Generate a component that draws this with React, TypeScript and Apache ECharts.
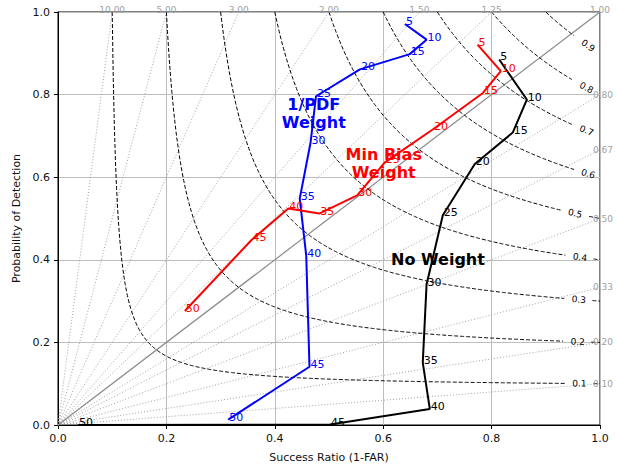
import React, { useEffect, useRef } from "react";
import * as echarts from "echarts";

// Lead-time labels for each point
const leadTimes = [5, 10, 15, 20, 25, 30, 35, 40, 45, 50];

// 1/PDF Weight (blue)
const pdfSR = [0.640, 0.680, 0.649, 0.557, 0.476, 0.466, 0.446, 0.458, 0.464, 0.314];
const pdfPOD = [0.971, 0.933, 0.898, 0.861, 0.796, 0.684, 0.548, 0.410, 0.141, 0.013];

// Min Bias Weight (red)
const minBiasSR = [0.774, 0.817, 0.784, 0.692, 0.603, 0.552, 0.482, 0.425, 0.357, 0.234];
const minBiasPOD = [0.921, 0.857, 0.804, 0.716, 0.636, 0.556, 0.512, 0.524, 0.448, 0.276];

// No Weight (black)
const noWeightSR = [0.814, 0.865, 0.839, 0.769, 0.710, 0.680, 0.673, 0.686, 0.502, 0.037];
const noWeightPOD = [0.885, 0.788, 0.708, 0.632, 0.508, 0.340, 0.151, 0.039, 0.001, 0.0];

// CSI contour levels and where their labels sit (success ratio)
const csiLevels = [0.1, 0.2, 0.3, 0.4, 0.5, 0.6, 0.7, 0.8, 0.9];
const csiLabelSR = [0.962, 0.959, 0.961, 0.963, 0.954, 0.978, 0.975, 0.975, 0.978];

// Frequency bias lines
const biasValues = [10, 5, 3, 2, 1.5, 1.25, 1, 1 / 1.25, 1 / 1.5, 1 / 2, 1 / 3, 1 / 5, 1 / 10];
const biasLabels = ["10.00", "5.00", "3.00", "2.00", "1.50", "1.25", "1.00", "0.80", "0.67", "0.50", "0.33", "0.20", "0.10"];

// Annotations
const annotationTexts = ["1/PDF\nWeight", "Min Bias\nWeight", "No Weight"];
const annotationSR = [0.472, 0.601, 0.701];
const annotationPOD = [0.755, 0.633, 0.401];
const annotationColors = ["#0000ff", "#ff0000", "#000000"];

const axisTicks = [0, 0.2, 0.4, 0.6, 0.8, 1.0];

const FONT = "DejaVu Sans";
const PLOT_W = 542;
const PLOT_H = 417;

function csiPod(c: number, s: number) {
  return 1 / (1 / c - 1 / s + 1);
}

function makeLineSeries(name: string, sr: number[], pod: number[], color: string) {
  return {
    name,
    type: "line",
    data: sr.map((s, i) => [s, pod[i], leadTimes[i]]),
    showSymbol: true,
    symbol: "circle",
    symbolSize: 0,
    itemStyle: { color },
    lineStyle: { color, width: 2 },
    z: 10,
    clip: false,
    label: {
      show: true,
      position: [0, 0],
      align: "left",
      verticalAlign: "bottom",
      offset: [1, 3],
      color,
      fontFamily: FONT,
      fontSize: 11,
      formatter: (p: any) => String(p.value[2]),
    },
    emphasis: { disabled: true },
  };
}

export default function App() {
  const ref = useRef<HTMLDivElement>(null);
  useEffect(() => {
    if (!ref.current) return;
    const chart = echarts.init(ref.current, undefined, { renderer: "svg" });

    const series: any[] = [];

    // Bias lines
    biasValues.forEach((b) => {
      const end = b >= 1 ? [1 / b, 1] : [1, b];
      const isOne = Math.abs(b - 1) < 1e-9;
      series.push({
        type: "line",
        data: [[0, 0], end],
        showSymbol: false,
        silent: true,
        lineStyle: isOne
          ? { color: "#8a8a8a", width: 1.2, type: "solid" }
          : { color: "#999999", width: 0.9, type: [1, 2] },
        z: 2,
      });
    });

    // CSI contours (broken where the label sits)
    const gap = 0.025;
    csiLevels.forEach((c, k) => {
      const ls = csiLabelSR[k];
      const seg1: number[][] = [];
      const seg2: number[][] = [];
      const step = 0.002;
      for (let s = c; s <= 1.00001; s += step) {
        const sv = Math.min(s, 1);
        const p = csiPod(c, sv);
        if (sv < ls - gap) seg1.push([sv, p]);
        else if (sv > ls + gap) seg2.push([sv, p]);
      }
      if (seg2.length === 0 || seg2[seg2.length - 1][0] < 1) seg2.push([1, csiPod(c, 1)]);
      [seg1, seg2].forEach((seg) => {
        series.push({
          type: "line",
          data: seg,
          showSymbol: false,
          silent: true,
          lineStyle: { color: "#000", width: 1, type: [4, 2] },
          z: 3,
        });
      });
    });

    // CSI labels
    series.push({
      type: "scatter",
      symbolSize: 0,
      silent: true,
      z: 4,
      itemStyle: { opacity: 1 },
      data: csiLevels.map((c, k) => {
        const s = csiLabelSR[k];
        const p = csiPod(c, s);
        const slope = (-(p * p) / (s * s)) * (PLOT_H / PLOT_W);
        const rot = (Math.atan(slope) * 180) / Math.PI;
        return {
          value: [s, p],
          label: {
            show: true,
            formatter: String(c),
            rotate: rot,
            position: [0, 0],
            align: "center",
            verticalAlign: "middle",
            color: "#000",
            fontFamily: FONT,
            fontSize: 9,
          },
        };
      }),
    });

    // Bias labels
    series.push({
      type: "scatter",
      symbolSize: 0,
      silent: true,
      z: 4,
      itemStyle: { opacity: 1 },
      data: biasValues.map((b, k) => {
        const top = b >= 1 - 1e-9;
        return {
          value: top ? [1 / b, 1] : [1, b],
          label: {
            show: true,
            formatter: biasLabels[k],
            position: [0, 0],
            align: "center",
            verticalAlign: "middle",
            offset: top ? [0, -2] : [3, 0],
            color: "#a0a0a0",
            fontFamily: FONT,
            fontSize: 9,
          },
        };
      }),
    });

    // Data series
    series.push(makeLineSeries("1/PDF Weight", pdfSR, pdfPOD, "#0000ff"));
    series.push(makeLineSeries("Min Bias Weight", minBiasSR, minBiasPOD, "#ff0000"));
    series.push(makeLineSeries("No Weight", noWeightSR, noWeightPOD, "#000000"));

    // Annotations
    series.push({
      type: "scatter",
      symbolSize: 0,
      silent: true,
      z: 20,
      itemStyle: { opacity: 1 },
      data: annotationTexts.map((t, k) => ({
        value: [annotationSR[k], annotationPOD[k]],
        label: {
          show: true,
          formatter: t,
          position: [0, 0],
          align: "center",
          verticalAlign: "middle",
          color: annotationColors[k],
          fontFamily: FONT,
          fontSize: 16,
          fontWeight: "bold",
          lineHeight: 18,
        },
      })),
    });

    const axisCommon = {
      type: "value",
      min: axisTicks[0],
      max: axisTicks[axisTicks.length - 1],
      interval: 0.2,
      axisLine: { show: true, lineStyle: { color: "#000", width: 1 } },
      axisTick: { show: true, inside: false, length: 4, lineStyle: { color: "#000" } },
      splitLine: { show: true, lineStyle: { color: "#bdbdbd", width: 1 } },
      axisLabel: {
        color: "#111",
        fontFamily: FONT,
        fontSize: 11,
        formatter: (v: number) => v.toFixed(1),
      },
      nameLocation: "middle",
      nameTextStyle: { color: "#111", fontFamily: FONT, fontSize: 11 },
    };

    chart.setOption({
      animation: false,
      textStyle: { fontFamily: FONT },
      grid: {
        left: 58,
        right: 17,
        top: 12,
        bottom: 39,
        show: true,
        borderColor: "#000",
        borderWidth: 1,
        backgroundColor: "transparent",
      },
      xAxis: {
        ...axisCommon,
        name: "Success Ratio (1-FAR)",
        nameGap: 27,
        axisLabel: { ...axisCommon.axisLabel, margin: 8 },
      },
      yAxis: {
        ...axisCommon,
        name: "Probability of Detection",
        nameGap: 36,
        axisLabel: { ...axisCommon.axisLabel, margin: 8 },
      },
      series,
    });

    return () => chart.dispose();
  }, []);

  return <div ref={ref} style={{ width: 617, height: 468, position: "absolute", left: 0, top: 0 }} />;
}
